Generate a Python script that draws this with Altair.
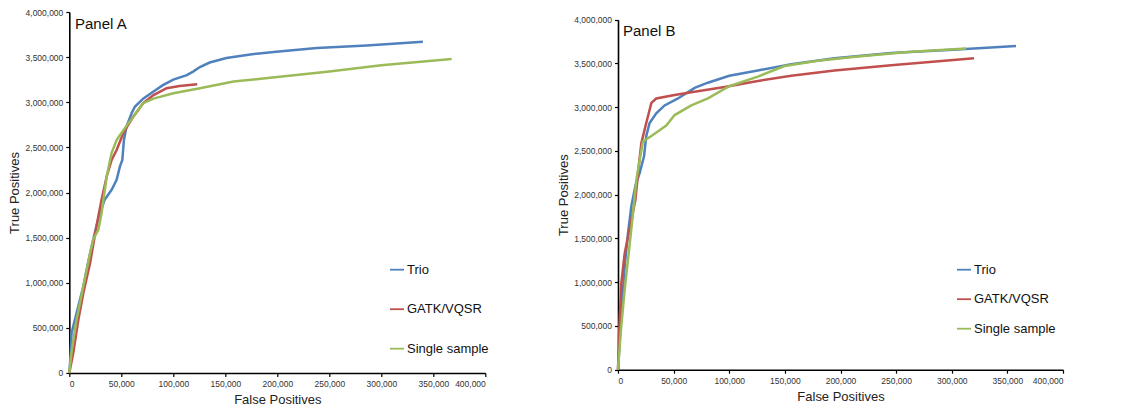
import altair as alt
import pandas as pd

series_names = ["Trio", "GATK/VQSR", "Single sample"]
series_colors = ["#4F81BD", "#C0504D", "#9BBB59"]

# ---------------- Panel A ----------------
a_trio_fp = [0, 1000, 2200, 7000, 13500, 18000, 23000, 26000, 29500, 34000, 40700, 45500, 48700, 51000,
             52500, 55000, 60000, 63000, 71000, 81000, 90000, 100000, 113000, 119000, 125600, 135000,
             151000, 174000, 199000, 238000, 286000, 340000]
a_trio_tp = [0, 150000, 443000, 664000, 960000, 1220000, 1480000, 1620000, 1770000, 1920000, 2030000,
             2140000, 2290000, 2360000, 2580000, 2730000, 2880000, 2950000, 3040000, 3120000, 3190000,
             3250000, 3300000, 3340000, 3390000, 3440000, 3490000, 3530000, 3560000, 3600000, 3630000,
             3670000]

a_gatk_fp = [0, 3800, 8700, 13500, 20000, 26000, 31000, 36000, 40700, 45500, 52000, 61500, 71000,
             81000, 93600, 106000, 123000]
a_gatk_tp = [0, 221000, 590000, 886000, 1220000, 1620000, 1920000, 2180000, 2360000, 2470000, 2660000,
             2840000, 2990000, 3080000, 3155000, 3180000, 3200000]

a_single_fp = [0, 2000, 7000, 13500, 20000, 23000, 28000, 31000, 36000, 40700, 45500, 52000, 61500,
               71000, 81000, 100000, 125600, 158000, 200000, 250000, 300000, 367600]
a_single_tp = [0, 221000, 590000, 960000, 1330000, 1480000, 1590000, 1770000, 2180000, 2440000,
               2580000, 2690000, 2840000, 2990000, 3040000, 3100000, 3155000, 3230000, 3280000,
               3340000, 3410000, 3480000]

# ---------------- Panel B ----------------
b_trio_fp = [0, 3000, 6000, 9000, 12000, 15600, 19500, 23400, 25400, 28400, 34400, 41900, 53900, 68900,
             80800, 100000, 125700, 155700, 194600, 245500, 305000, 357800]
b_trio_tp = [0, 648000, 1180000, 1560000, 1870000, 2100000, 2250000, 2440000, 2670000, 2820000,
             2930000, 3020000, 3100000, 3220000, 3280000, 3360000, 3420000, 3490000, 3560000, 3620000,
             3660000, 3700000]

b_gatk_fp = [0, 1000, 3000, 6000, 9000, 12000, 15600, 18600, 21000, 25400, 30000, 34400, 50900, 65900,
             95800, 125700, 155700, 194600, 245500, 320000]
b_gatk_tp = [0, 420000, 990000, 1330000, 1520000, 1710000, 1940000, 2320000, 2590000, 2820000, 3050000,
             3100000, 3140000, 3170000, 3230000, 3300000, 3360000, 3420000, 3480000, 3560000]

b_single_fp = [0, 2400, 6000, 9600, 13500, 16500, 19500, 22500, 30000, 43400, 50900, 65900, 80800,
               100000, 125700, 149700, 179600, 215600, 260500, 312900]
b_single_tp = [0, 420000, 914000, 1330000, 1790000, 2170000, 2400000, 2610000, 2670000, 2790000,
               2910000, 3020000, 3100000, 3240000, 3350000, 3470000, 3530000, 3580000, 3630000, 3670000]

y_ticks = [0, 500000, 1000000, 1500000, 2000000, 2500000, 3000000, 3500000, 4000000]
x_ticks = [0, 50000, 100000, 150000, 200000, 250000, 300000, 350000, 400000]


def frame(parts):
    rows = []
    for name, fps, tps in parts:
        for i, (f, t) in enumerate(zip(fps, tps)):
            rows.append({"series": name, "fp": f, "tp": t, "idx": i})
    return pd.DataFrame(rows)


df_a = frame([("Trio", a_trio_fp, a_trio_tp), ("GATK/VQSR", a_gatk_fp, a_gatk_tp),
              ("Single sample", a_single_fp, a_single_tp)])
df_b = frame([("Trio", b_trio_fp, b_trio_tp), ("GATK/VQSR", b_gatk_fp, b_gatk_tp),
              ("Single sample", b_single_fp, b_single_tp)])

FONT = "Liberation Sans"


def axis(title, vals, pad, lpad):
    return alt.Axis(values=vals, format=",d", labelFontSize=8.5, titleFontSize=13, titlePadding=pad,
                    title=title, grid=False, domainColor="#000", domainWidth=1.6, tickColor="#000",
                    tickSize=3.5, tickWidth=1.2, labelFont=FONT, titleFont=FONT, labelColor="#333",
                    titleColor="#222", titleFontWeight="normal", labelPadding=lpad)


def panel(df, label, w, h, y_range, leg_x, leg_y, row_pad, lab_x, lab_y):
    x = alt.X("fp:Q", scale=alt.Scale(domain=[0, 400000], nice=False),
              axis=axis("False Positives", x_ticks, 6, 3))
    y = alt.Y("tp:Q", scale=alt.Scale(domain=[0, 4000000], nice=False, range=y_range),
              axis=axis("True Positives", y_ticks, 3, 3))
    lines = alt.Chart(df).mark_line(strokeWidth=2.5).encode(
        x=x, y=y,
        order="idx:Q",
        color=alt.Color("series:N",
                        scale=alt.Scale(domain=series_names, range=series_colors),
                        sort=series_names,
                        legend=alt.Legend(orient="none", legendX=leg_x, legendY=leg_y, title=None,
                                          symbolType="stroke", symbolSize=196,
                                          symbolStrokeWidth=1.8, labelFontSize=13,
                                          labelFont=FONT, labelColor="#111",
                                          rowPadding=row_pad, labelOffset=2)),
    )
    txt = alt.Chart(pd.DataFrame({"t": [label]})).mark_text(
        align="left", baseline="alphabetic", fontSize=15, font=FONT, color="#111"
    ).encode(x=alt.value(lab_x), y=alt.value(lab_y), text="t:N")
    return alt.layer(lines, txt).properties(width=w, height=h)


pa = panel(df_a, "Panel A", 416, 361, [361, 0], 319.7, 249.7, 24.5, 5.7, 16.7)
pb = panel(df_b, "Panel B", 445, 357.7, [357.7, 7.7], 338, 249.7, 14.5, 5, 23.7)

chart = alt.hconcat(pa, pb, spacing=67.7).resolve_scale(
    color="independent").resolve_legend(color="independent").configure_view(
    stroke=None).properties(padding={"left": 0.3, "top": 0, "right": 5, "bottom": 5})

chart.save("out.html", embed_options={"renderer": "svg", "actions": False})
